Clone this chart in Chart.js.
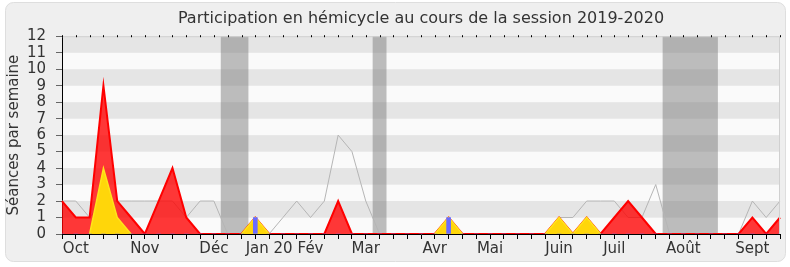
<!DOCTYPE html>
<meta charset="utf-8">
<title>Participation en hémicycle 2019-2020</title>
<style>
  html, body { margin: 0; background: #fff }
</style>
<div style="width:790px;height:267px"><canvas id="chart"></canvas></div>
<script src="https://cdn.jsdelivr.net/npm/chart.js@4"></script>
<script>
  // one value per week, session 2019-2020
  const presence      = [2, 1, 1, 9, 2, 1, 0, 2, 4, 1, 0, 0, 0, 0, 1, 0, 0, 0, 0, 0, 2, 0, 0, 0, 0, 0, 0, 0, 1, 0, 0, 0, 0, 0, 0, 0, 1, 0, 1, 0, 1, 2, 1, 0, 0, 0, 0, 0, 0, 0, 1, 0, 1]
  const interventions = [0, 0, 0, 4, 1, 0, 0, 0, 0, 0, 0, 0, 0, 0, 1, 0, 0, 0, 0, 0, 0, 0, 0, 0, 0, 0, 0, 0, 1, 0, 0, 0, 0, 0, 0, 0, 1, 0, 1, 0, 0, 0, 0, 0, 0, 0, 0, 0, 0, 0, 0, 0, 0]
  const questions     = [0, 0, 0, 0, 0, 0, 0, 0, 0, 0, 0, 0, 0, 0, 1, 0, 0, 0, 0, 0, 0, 0, 0, 0, 0, 0, 0, 0, 1, 0, 0, 0, 0, 0, 0, 0, 0, 0, 0, 0, 0, 0, 0, 0, 0, 0, 0, 0, 0, 0, 0, 0, 0]
  const median        = [2, 2, 1, 2, 2, 2, 2, 2, 2, 1, 2, 2, 0, 0, 0, 0, 1, 2, 1, 2, 6, 5, 2, 0, 0, 0, 0, 0, 0, 0, 0, 0, 0, 0, 0, 0, 1, 1, 2, 2, 2, 1, 1, 3, 0, 0, 0, 0, 0, 0, 2, 1, 2]

  const monthLabels = ["Oct", "Nov", "Déc", "Jan 20", "Fév", "Mar", "Avr", "Mai", "Juin", "Juil", "Août", "Sept"]
  const monthWeeks  = [1, 6, 11, 15, 18, 22, 27, 31, 36, 40, 45, 50]

  // parliamentary breaks (first and last week)
  const breakStart = [12, 23, 44]
  const breakEnd   = [13, 23, 47]

  const yMax = 12
  const labels = presence.map((_, i) => monthLabels[monthWeeks.indexOf(i)] || "")
  const font = "'DejaVu Sans', sans-serif"

  const backdrop = {
    id: "backdrop",
    beforeDraw(chart) {
      const { ctx, chartArea: a, scales: { x, y } } = chart
      ctx.save()
      ctx.fillStyle = "#fff"
      ctx.fillRect(0, 0, chart.width, chart.height)
      ctx.beginPath()
      ctx.roundRect(5.5, 2.5, chart.width - 10, chart.height - 8, 8)
      ctx.fillStyle = "#efefef"
      ctx.fill()
      ctx.strokeStyle = "#dedede"
      ctx.stroke()
      for (let v = 0; v < yMax; v++) {
        const top = y.getPixelForValue(v + 1), bot = y.getPixelForValue(v)
        ctx.fillStyle = v % 2 ? "#e5e5e5" : "#fafafa"
        ctx.fillRect(a.left, top, a.width, bot - top)
      }
      ctx.fillStyle = "rgba(125,125,125,0.5)"
      breakStart.forEach((s, i) => {
        const l = x.getPixelForValue(s - 0.5), r = x.getPixelForValue(breakEnd[i] + 0.5)
        ctx.fillRect(l, a.top, r - l, a.height)
      })
      ctx.restore()
    },
    afterDraw(chart) {
      const { ctx, chartArea: a, scales: { x } } = chart
      ctx.save()
      ctx.strokeStyle = "#d0d0d0"
      ctx.beginPath()
      ctx.moveTo(a.left, a.top + 0.5)
      ctx.lineTo(a.right - 0.5, a.top + 0.5)
      ctx.lineTo(a.right - 0.5, a.bottom)
      ctx.stroke()
      ctx.fillStyle = "#000"
      labels.forEach((_, i) => {
        const px = Math.round(x.getPixelForValue(i))
        ctx.fillRect(px, a.top - 1, 1, 2)
      })
      ctx.restore()
    },
  }

  window.chart = new Chart(document.getElementById("chart"), {
    type: "line",
    data: {
      labels,
      datasets: [
        {
          type: "bar",
          data: questions,
          backgroundColor: "#6b6bff",
          barThickness: 4,
        },
        {
          data: interventions,
          borderColor: "#ffe41a",
          backgroundColor: "#ffd60a",
          borderWidth: 1.5,
          fill: "origin",
          segment: {
            borderColor: c => c.p0.parsed.y === 0 && c.p1.parsed.y === 0 ? "transparent" : undefined,
          },
        },
        {
          data: presence,
          borderColor: "#ff0000",
          backgroundColor: "rgba(255,0,0,0.78)",
          borderWidth: 2,
          fill: "origin",
        },
        {
          data: median,
          borderColor: "#b5b5b5",
          borderWidth: 1,
          fill: false,
        },
      ],
    },
    options: {
      animation: false,
      responsive: true,
      maintainAspectRatio: false,
      elements: { point: { radius: 0 }, line: { tension: 0 } },
      layout: { padding: { left: 5, right: 10, top: 1, bottom: 8 } },
      scales: {
        x: {
          offset: false,
          grid: { display: true, drawOnChartArea: false, tickLength: 5, color: "#000", offset: false },
          border: { color: "#000", width: 1 },
          ticks: { autoSkip: false, maxRotation: 0, padding: 1, color: "#333", font: { family: font, size: 15 } },
        },
        y: {
          min: 0,
          max: yMax,
          afterFit: s => { s.width = 57 },
          grid: { drawOnChartArea: false, tickLength: 6, color: "#666" },
          border: { color: "#000", width: 1 },
          ticks: { stepSize: 1, autoSkip: false, padding: 10, color: "#333", font: { family: font, size: 15 } },
          title: {
            display: true,
            text: "Séances par semaine",
            color: "#333",
            padding: 0,
            font: { family: font, size: 15 },
          },
        },
      },
      plugins: {
        legend: { display: false },
        tooltip: { enabled: false },
        title: {
          display: true,
          fullSize: false,
          text: "Participation en hémicycle au cours de la session 2019-2020",
          color: "#333",
          padding: { top: 8, bottom: 8 },
          font: { family: font, size: 16, weight: "normal" },
        },
      },
    },
    plugins: [backdrop],
  })
</script>
